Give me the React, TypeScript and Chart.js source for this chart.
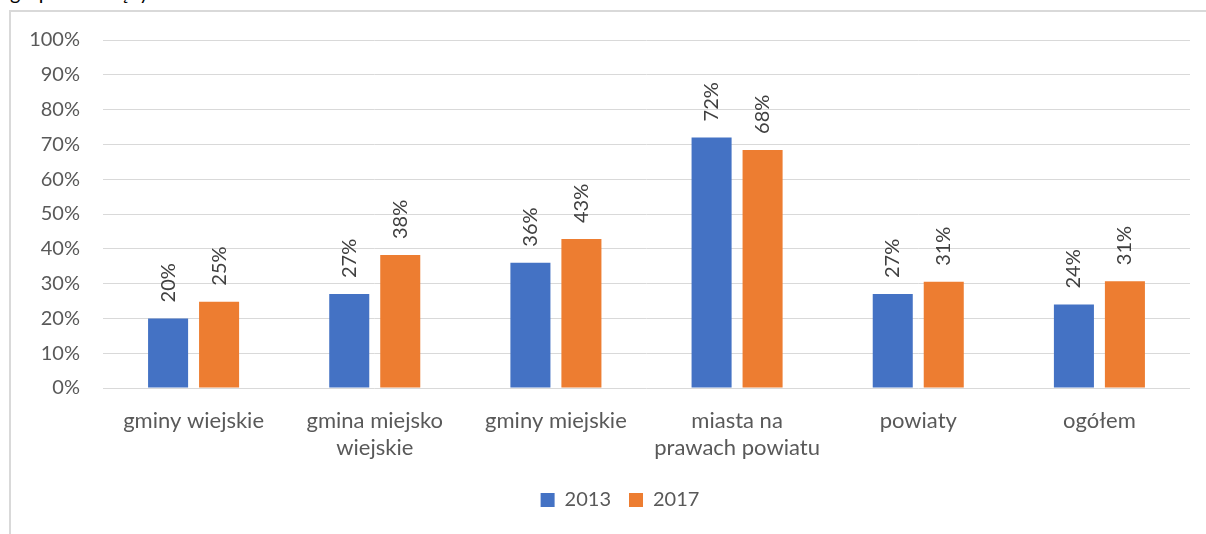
import React, { useEffect, useRef } from "react";
import { Chart, registerables } from "chart.js";

Chart.register(...registerables);

const categories: (string | string[])[] = [
  "gminy wiejskie",
  ["gmina miejsko", "wiejskie"],
  "gminy miejskie",
  ["miasta na", "prawach powiatu"],
  "powiaty",
  "ogółem",
];
const series2013 = [20, 27, 36, 72, 27, 24];
const series2017 = [24.8, 38.2, 42.8, 68.4, 30.5, 30.7];
const seriesNames = ["2013", "2017"];
const seriesColors = ["#4472C4", "#ED7D31"];
const yTicksMax = 100;
const yTickStep = 10;

const FONT = "Lato, 'Noto Sans', sans-serif";

const valueLabels = {
  id: "valueLabels",
  afterDatasetsDraw(chart: any) {
    const ctx = chart.ctx;
    ctx.save();
    ctx.font = `20px ${FONT}`;
    ctx.fillStyle = "#404040";
    ctx.textAlign = "left";
    ctx.textBaseline = "middle";
    chart.data.datasets.forEach((ds: any, di: number) => {
      const meta = chart.getDatasetMeta(di);
      meta.data.forEach((bar: any, i: number) => {
        const v = ds.data[i];
        ctx.save();
        ctx.translate(bar.x, bar.y - 16);
        ctx.rotate(-Math.PI / 2);
        ctx.fillText(Math.round(v) + "%", 0, 0);
        ctx.restore();
      });
    });
    ctx.restore();
  },
};

const legendShift = {
  id: "legendShift",
  afterLayout(chart: any) {
    const lg = chart.legend;
    if (lg) {
      lg.left += 25;
      lg.right += 25;
    }
  },
};

export default function App() {
  const ref = useRef<HTMLCanvasElement>(null);
  useEffect(() => {
    if (!ref.current) return;
    const chart = new Chart(ref.current, {
      type: "bar",
      data: {
        labels: categories,
        datasets: [
          {
            label: seriesNames[0],
            data: series2013,
            backgroundColor: seriesColors[0],
            categoryPercentage: 0.563,
            barPercentage: 0.785,
          },
          {
            label: seriesNames[1],
            data: series2017,
            backgroundColor: seriesColors[1],
            categoryPercentage: 0.563,
            barPercentage: 0.785,
          },
        ],
      },
      options: {
        responsive: false,
        animation: false,
        devicePixelRatio: 1,
        layout: { padding: { top: 40, right: 16, bottom: 14, left: 0 } },
        plugins: {
          tooltip: { enabled: false },
          legend: {
            position: "bottom",
            labels: {
              boxWidth: 14,
              boxHeight: 14,
              padding: 18,
              color: "#595959",
              font: { family: FONT, size: 20 },
            },
          },
        },
        scales: {
          x: {
            grid: { display: false, drawTicks: false },
            border: { display: false },
            ticks: {
              color: "#595959",
              padding: 19,
              maxRotation: 0,
              autoSkip: false,
              font: { family: FONT, size: 22, lineHeight: 1.227 },
            },
            afterFit(scale: any) {
              scale.height = 84;
            },
          },
          y: {
            min: 0,
            max: yTicksMax,
            grid: { color: "#d9d9d9", lineWidth: 1, drawTicks: false },
            border: { display: false },
            ticks: {
              stepSize: yTickStep,
              color: "#595959",
              padding: 23,
              font: { family: FONT, size: 20 },
              callback: (v: any) => v + "%",
            },
            afterFit(scale: any) {
              scale.width = 103;
            },
          },
        },
      },
      plugins: [valueLabels, legendShift],
    });
    return () => chart.destroy();
  }, []);

  return (
    <div
      style={{
        position: "absolute",
        left: 0,
        top: 0,
        width: 1206,
        height: 534,
        overflow: "hidden",
        background: "#fff",
      }}
    >
      <div
        style={{
          position: "absolute",
          left: 10,
          top: -18,
          fontFamily: FONT,
          fontSize: 20,
          lineHeight: "20px",
          color: "#000",
          whiteSpace: "nowrap",
        }}
      >
        grup samorządy
      </div>
      <div
        style={{
          position: "absolute",
          left: 9,
          top: 10,
          width: 1300,
          height: 600,
          borderLeft: "2px solid #d9d9d9",
          borderTop: "2px solid #d9d9d9",
        }}
      />
      <canvas
        ref={ref}
        width={1206}
        height={534}
        style={{ position: "absolute", left: 0, top: 0 }}
      />
    </div>
  );
}
